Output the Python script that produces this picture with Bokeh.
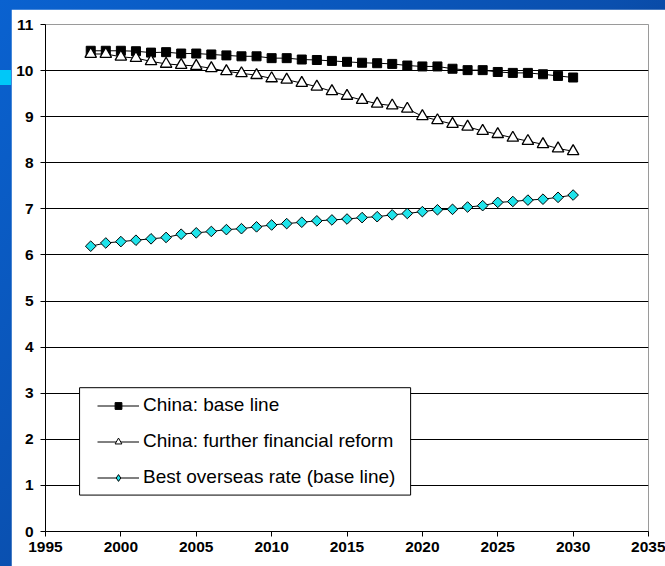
import math
from bokeh.plotting import figure
from bokeh.models import (Range1d, FixedTicker, Legend, LegendItem, BoxAnnotation)
from bokeh.layouts import column
from bokeh.embed import file_html
from bokeh.resources import INLINE

# ---- data ----
years = list(range(1998, 2031))
china_base = [10.43, 10.43, 10.43, 10.42, 10.39, 10.40, 10.37, 10.37, 10.35, 10.33,
              10.31, 10.31, 10.27, 10.27, 10.24, 10.23, 10.21, 10.19, 10.17, 10.16,
              10.145, 10.11, 10.09, 10.09, 10.04, 10.01, 10.01, 9.97, 9.95, 9.95,
              9.92, 9.885, 9.85]
china_reform = [10.36, 10.36, 10.30, 10.27, 10.20, 10.145, 10.12, 10.10, 10.05, 9.985,
                9.94, 9.90, 9.83, 9.80, 9.73, 9.65, 9.55, 9.45, 9.36, 9.28,
                9.24, 9.17, 9.01, 8.92, 8.84, 8.78, 8.69, 8.62, 8.54, 8.47,
                8.40, 8.31, 8.25]
overseas_base = [6.19, 6.26, 6.29, 6.32, 6.35, 6.38, 6.45, 6.48, 6.51, 6.55,
                 6.57, 6.61, 6.65, 6.68, 6.71, 6.74, 6.76, 6.78, 6.81, 6.83,
                 6.87, 6.90, 6.94, 6.98, 6.99, 7.04, 7.07, 7.14, 7.16, 7.19,
                 7.21, 7.25, 7.30]
series_labels = ["China: base line", "China: further financial reform",
                 "Best overseas rate (base line)"]
x_ticks = [1995, 2000, 2005, 2010, 2015, 2020, 2025, 2030, 2035]
y_ticks = list(range(0, 12))

FONT = "Liberation Sans"
CYAN = "#1FE3EA"

p = figure(width=654, height=557,
           x_range=Range1d(1995, 2035), y_range=Range1d(0, 11),
           output_backend="svg", toolbar_location=None,
           min_border_left=34, min_border_right=17,
           min_border_top=15, min_border_bottom=35)
p.margin = (9, 0, 0, 11)
p.background_fill_color = "white"
p.border_fill_color = "white"
p.outline_line_color = "#9a9a9a"
p.outline_line_width = 1

p.xgrid.visible = False
p.ygrid.ticker = FixedTicker(ticks=y_ticks[1:-1])
p.ygrid.grid_line_color = "black"
p.ygrid.grid_line_width = 1

for ax in (p.xaxis[0], p.yaxis[0]):
    ax.axis_line_color = "black"
    ax.axis_line_width = 1
    ax.major_tick_line_color = "black"
    ax.major_tick_out = 5
    ax.major_tick_in = 0
    ax.minor_tick_line_color = None
    ax.major_label_text_font = FONT
    ax.major_label_text_font_style = "bold"
    ax.major_label_text_color = "black"
    ax.major_label_text_font_size = "15.5px"

p.xaxis[0].ticker = FixedTicker(ticks=x_ticks)
p.yaxis[0].ticker = FixedTicker(ticks=y_ticks)
p.xaxis[0].major_label_standoff = 5
p.yaxis[0].major_label_standoff = 7

l1 = p.line(years, china_base, line_color="black", line_width=1)
p.scatter(years, china_base, marker="square", size=9,
          fill_color="black", line_color="black", line_width=1)
l2 = p.line(years, china_reform, line_color="black", line_width=1)
p.scatter(years, china_reform, marker="triangle", size=11.5,
          fill_color="white", line_color="black", line_width=1.3)
l3 = p.line(years, overseas_base, line_color="black", line_width=1)
p.scatter(years, overseas_base, marker="square", size=7.5, angle=math.pi / 4,
          fill_color=CYAN, line_color="black", line_width=1)

# marker styles used only for the legend keys (hidden in the plot)
k1 = p.scatter(years, china_base, marker="square", size=6,
               fill_color="black", line_color="black", line_width=1, visible=False)
k2 = p.scatter(years, china_reform, marker="triangle", size=7.5,
               fill_color="white", line_color="black", line_width=1, visible=False)
k3 = p.scatter(years, overseas_base, marker="diamond", size=9,
               fill_color=CYAN, line_color="black", line_width=1, visible=False)

box = BoxAnnotation(left=1997.26, right=2019.22, bottom=0.79, top=3.12,
                    fill_color="white", fill_alpha=1.0,
                    line_color="black", line_width=1, line_alpha=1.0)
p.add_layout(box)

legend = Legend(items=[LegendItem(label=series_labels[0], renderers=[l1, k1]),
                       LegendItem(label=series_labels[1], renderers=[l2, k2]),
                       LegendItem(label=series_labels[2], renderers=[l3, k3])],
                location=(44, 35), padding=8, spacing=14, margin=0,
                glyph_width=42, glyph_height=17, label_height=22,
                label_standoff=4, label_text_font=FONT,
                label_text_font_size="19px", label_text_color="black",
                border_line_alpha=0, background_fill_alpha=0,
                inactive_fill_alpha=0)
p.add_layout(legend)

layout = column(p, styles={
    "background": "linear-gradient(#00c8f8, #00c8f8) 0px 70px / 11px 15px no-repeat, "
                  "linear-gradient(135deg, #0a62d0 0%, #0a4fae 50%, #00286a 100%)"
})

html = file_html(layout, INLINE)
open("out.html", "w").write(html)
